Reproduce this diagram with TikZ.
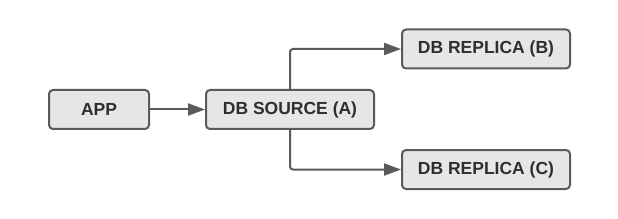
\documentclass[tikz,border=0pt]{standalone}
\usepackage{fontspec}
\setmainfont{Liberation Sans}
\newfontfamily\boxfont{Liberation Sans Bold}
\usepackage{xcolor}
\definecolor{edge}{HTML}{5A5A5A}
\definecolor{boxfill}{HTML}{E6E6E6}
\definecolor{ink}{HTML}{2E2E2E}
\usetikzlibrary{arrows.meta,positioning}
\tikzset{
  >={Triangle[length=17pt,width=12pt]},
  box/.style={draw=edge,rounded corners=4pt,line width=2pt,fill=boxfill,minimum height=39pt,inner sep=0pt,text=ink,font=\boxfont\fontsize{17.5}{20}\selectfont,align=center},
  dbbox/.style={box,minimum width=168pt},
  arr/.style={->,draw=edge,line width=2pt,rounded corners=3pt},
}
\begin{document}
\begin{tikzpicture}[x=1pt,y=-1pt]
\useasboundingbox (0,0) rectangle (618,219);
\node[box,minimum width=100pt] (app) at (99,109.5) {APP};
\node[dbbox] (src) at (290,109.5) {DB SOURCE (A)};
\node[dbbox] (repb) at (486,49) {DB REPLICA (B)};
\node[dbbox] (repc) at (486,169.5) {DB REPLICA (C)};
\draw[arr] (app) -- (src);
\draw[arr] (src.north) |- (repb.west);
\draw[arr] (src.south) |- (repc.west);
\end{tikzpicture}
\end{document}
